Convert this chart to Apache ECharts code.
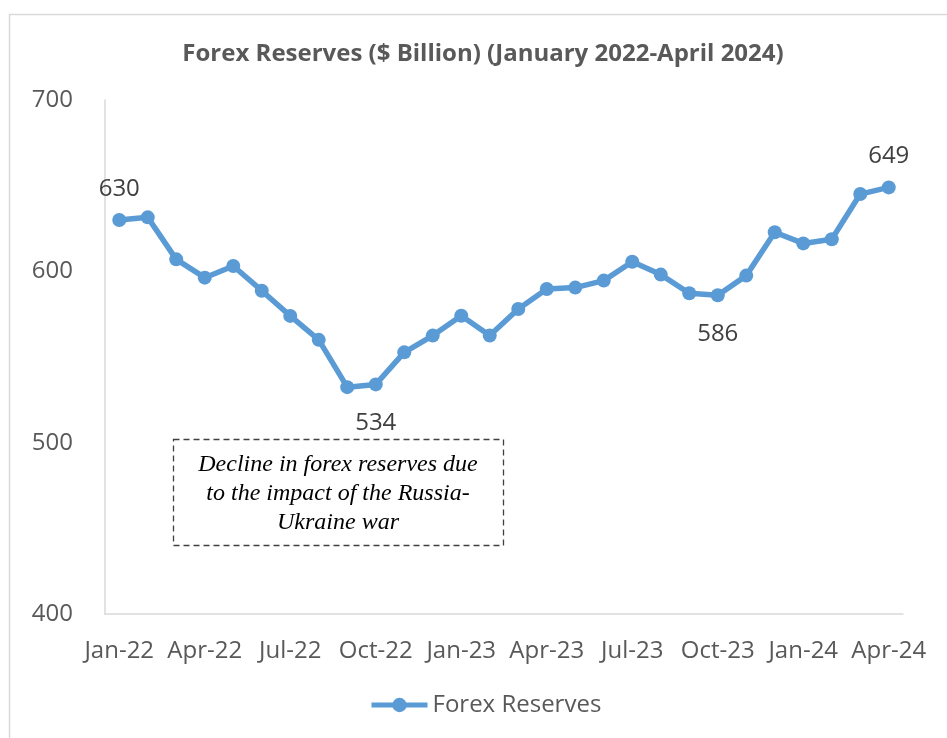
<!DOCTYPE html>
<html>
<head>
<meta charset="utf-8">
<title>Forex Reserves</title>
<script src="https://cdn.jsdelivr.net/npm/echarts@6/dist/echarts.min.js"></script>
<style>
  html, body { margin: 0; padding: 0; background: #ffffff; }
  #chart { width: 947px; height: 738px; }
</style>
</head>
<body>
<div id="chart"></div>
<script>
// Monthly forex reserves, $ billion
const months = [
  'Jan-22','Feb-22','Mar-22','Apr-22','May-22','Jun-22','Jul-22','Aug-22','Sep-22','Oct-22','Nov-22','Dec-22',
  'Jan-23','Feb-23','Mar-23','Apr-23','May-23','Jun-23','Jul-23','Aug-23','Sep-23','Oct-23','Nov-23','Dec-23',
  'Jan-24','Feb-24','Mar-24','Apr-24'
];
const reserves = [
  630, 631.5, 607, 596.3, 603.1, 588.7, 574, 560, 532.4, 534, 552.7, 562.5,
  574.1, 562.5, 578, 589.7, 590.5, 594.6, 605.6, 598.1, 587.2, 586, 597.5, 622.8,
  616.3, 618.7, 645.1, 649
];
const yTicks = [400, 500, 600, 700];
// points that carry a value label, and on which side
const labelledPoints = { 0: 'top', 9: 'bottom', 21: 'bottom', 27: 'top' };
const noteLines = ['Decline in forex reserves due', 'to the impact of the Russia-', 'Ukraine war'];

const blue = '#5B9BD5';
const axisGrey = '#d9d9d9';
const textGrey = '#595959';

const seriesData = reserves.map((v, i) => {
  const pos = labelledPoints[i];
  if (!pos) return v;
  return {
    value: v,
    label: {
      show: true,
      position: pos,
      distance: pos === 'top' ? 12 : 20,
      formatter: () => String(Math.round(v)),
      fontFamily: 'Open Sans',
      fontSize: 24,
      color: '#404040'
    }
  };
});

const chart = echarts.init(document.getElementById('chart'), null, { renderer: 'canvas' });
chart.setOption({
  backgroundColor: '#ffffff',
  animation: false,
  title: {
    text: 'Forex Reserves ($ Billion) (January 2022-April 2024)',
    left: 478,
    textAlign: 'center',
    top: 37,
    textStyle: {
      fontFamily: 'Open Sans',
      fontWeight: 'bold',
      fontSize: 24,
      color: textGrey
    }
  },
  grid: { left: 105, right: 44, top: 100, bottom: 124, containLabel: false },
  xAxis: {
    type: 'category',
    data: months,
    boundaryGap: true,
    axisLine: { show: true, lineStyle: { color: axisGrey, width: 1.5 } },
    axisTick: { show: false },
    axisLabel: {
      interval: 2,
      margin: 25,
      fontFamily: 'Open Sans',
      fontSize: 24,
      color: textGrey
    },
    splitLine: { show: false }
  },
  yAxis: {
    type: 'value',
    min: yTicks[0],
    max: yTicks[yTicks.length - 1],
    interval: 100,
    axisLine: { show: true, lineStyle: { color: axisGrey, width: 1.5 } },
    axisTick: { show: false },
    axisLabel: {
      margin: 32,
      fontFamily: 'Open Sans',
      fontSize: 24,
      color: textGrey
    },
    splitLine: { show: false }
  },
  legend: {
    bottom: 16,
    left: 364,
    itemWidth: 56,
    itemHeight: 18,
    lineStyle: { width: 5 },
    textStyle: { fontFamily: 'Open Sans', fontSize: 24, color: textGrey },
    data: ['Forex Reserves']
  },
  series: [{
    name: 'Forex Reserves',
    type: 'line',
    data: seriesData,
    symbol: 'circle',
    symbolSize: 14,
    lineStyle: { color: blue, width: 5.5 },
    itemStyle: { color: blue },
    label: { show: false }
  }],
  graphic: [
    {
      type: 'rect',
      shape: { x: 9.5, y: 14.5, width: 950, height: 740 },
      style: { fill: 'none', stroke: axisGrey, lineWidth: 1.5 },
      silent: true
    },
    {
      type: 'rect',
      shape: { x: 173.5, y: 439.5, width: 330, height: 106 },
      style: { fill: 'none', stroke: '#404040', lineWidth: 1.3, lineDash: [6, 4] },
      silent: true
    },
    {
      type: 'text',
      x: 338,
      y: 494,
      style: {
        text: noteLines.join('\n'),
        font: 'italic 24px "Liberation Serif"',
        fill: '#000000',
        align: 'center',
        verticalAlign: 'middle',
        lineHeight: 29
      },
      silent: true
    }
  ]
});
</script>
</body>
</html>
